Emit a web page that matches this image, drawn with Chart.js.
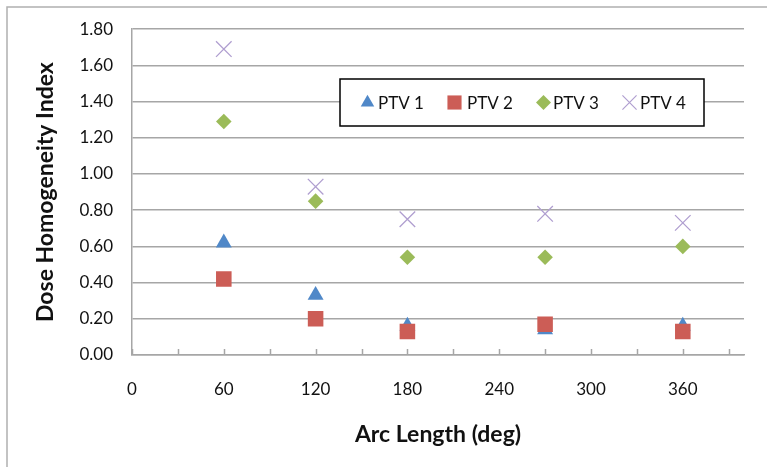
<!DOCTYPE html>
<html>
<head>
<meta charset="utf-8">
<title>Dose Homogeneity Index vs Arc Length</title>
<script src="https://cdn.jsdelivr.net/npm/chart.js@4.4.0/dist/chart.umd.min.js"></script>
<style>
  html, body { margin: 0; padding: 0; background: #fff; }
  #wrap { width: 767px; height: 467px; }
</style>
</head>
<body>
<div id="wrap"><canvas id="chart" width="767" height="467"></canvas></div>
<script>
// arc lengths (deg)
const arcLengths = [60, 120, 180, 270, 360];

// dose homogeneity index per PTV
const ptv1 = [0.62, 0.33, 0.16, 0.14, 0.16];
const ptv2 = [0.42, 0.20, 0.13, 0.17, 0.13];
const ptv3 = [1.29, 0.85, 0.54, 0.54, 0.60];
const ptv4 = [1.69, 0.93, 0.75, 0.78, 0.73];

const seriesNames = ['PTV 1', 'PTV 2', 'PTV 3', 'PTV 4'];

// x tick positions (every 30, labels every 60)
const xTicks = [0, 30, 60, 90, 120, 150, 180, 210, 240, 270, 300, 330, 360, 390];

const GRID = '#a6a6a6';
const FONT = 'Lato, "DejaVu Sans", sans-serif';

const toPoints = vals => vals.map((v, i) => ({ x: arcLengths[i], y: v }));

const styles = [
  { pointStyle: 'triangle', color: '#5088c8', radius: 9.2, legendRadius: 7.8, order: 4 },
  { pointStyle: 'rect', color: '#cc5d56', radius: 11, legendRadius: 10, order: 3 },
  { pointStyle: 'rectRot', color: '#9bbb59', radius: 7.8, legendRadius: 7.5, order: 2 },
  { pointStyle: 'crossRot', color: '#b09fd0', radius: 11, legendRadius: 10, order: 1 }
];

const datasets = [ptv1, ptv2, ptv3, ptv4].map((vals, i) => ({
  label: seriesNames[i],
  data: toPoints(vals),
  pointStyle: styles[i].pointStyle,
  pointRadius: styles[i].radius,
  pointHoverRadius: styles[i].radius,
  backgroundColor: styles[i].color,
  borderColor: styles[i].color,
  pointBorderWidth: i === 3 ? 1.3 : 0,
  showLine: false,
  order: styles[i].order
}));

// outer frame like the spreadsheet chart area
const framePlugin = {
  id: 'frame',
  beforeDraw(chart) {
    const ctx = chart.ctx;
    ctx.save();
    ctx.fillStyle = '#fff';
    ctx.fillRect(0, 0, chart.width, chart.height);
    ctx.strokeStyle = '#b0b0b0';
    ctx.lineWidth = 1.5;
    ctx.strokeRect(7, 7, chart.width + 20, chart.height + 20);
    ctx.restore();
  }
};

// inside tick marks on the x axis
const xTickPlugin = {
  id: 'xTickMarks',
  afterDatasetsDraw(chart) {
    const xs = chart.scales.x;
    const bottom = chart.chartArea.bottom;
    const ctx = chart.ctx;
    ctx.save();
    ctx.strokeStyle = GRID;
    ctx.lineWidth = 1.5;
    xs.ticks.forEach(t => {
      const px = Math.round(xs.getPixelForValue(t.value)) + 0.5;
      ctx.beginPath();
      ctx.moveTo(px, bottom);
      ctx.lineTo(px, bottom - 6);
      ctx.stroke();
    });
    ctx.restore();
  }
};

// boxed legend inside the plot area
const boxLegendPlugin = {
  id: 'boxLegend',
  afterDatasetsDraw(chart) {
    const ctx = chart.ctx;
    const area = chart.chartArea;
    const left = area.left + 208, top = 79, w = 364, h = 47;
    const cy = top + h / 2;
    const markerX = [367.5, 454.5, 543.5, 629.5];
    const textX = [378, 467, 553, 640];
    ctx.save();
    ctx.fillStyle = '#fff';
    ctx.fillRect(left, top, w, h);
    ctx.strokeStyle = '#000';
    ctx.lineWidth = 1.5;
    ctx.strokeRect(left, top, w, h);
    chart.data.datasets.forEach((ds, i) => {
      ctx.fillStyle = styles[i].color;
      ctx.strokeStyle = styles[i].color;
      ctx.lineWidth = i === 3 ? 1.2 : 0;
      Chart.helpers.drawPoint(ctx, {
        pointStyle: styles[i].pointStyle,
        radius: styles[i].legendRadius,
        rotation: 0,
        borderWidth: i === 3 ? 1.2 : 0
      }, markerX[i], cy);
      ctx.fillStyle = '#111';
      ctx.font = '17px ' + FONT;
      ctx.textBaseline = 'middle';
      ctx.textAlign = 'left';
      ctx.fillText(ds.label, textX[i], cy + 1);
    });
    ctx.restore();
  }
};

const LEFT_PAD = 32;
const BOTTOM_PAD = 19;

new Chart(document.getElementById('chart'), {
  type: 'scatter',
  data: { datasets },
  options: {
    responsive: false,
    animation: false,
    events: [],
    layout: { padding: { left: LEFT_PAD, top: 29, right: 23, bottom: BOTTOM_PAD } },
    plugins: {
      legend: { display: false },
      tooltip: { enabled: false }
    },
    scales: {
      x: {
        type: 'linear',
        min: 0,
        max: 400,
        afterBuildTicks(scale) {
          scale.ticks = xTicks.map(v => ({ value: v }));
        },
        afterFit(scale) {
          scale.height = 467 - BOTTOM_PAD - 355;
        },
        ticks: {
          autoSkip: false,
          maxRotation: 0,
          padding: 24,
          color: '#111',
          font: { family: FONT, size: 17 },
          callback: v => (v % 60 === 0 ? String(v) : '')
        },
        grid: { drawOnChartArea: false, drawTicks: false },
        border: { display: true, color: GRID, width: 1.5 },
        title: {
          display: true,
          text: 'Arc Length (deg)',
          color: '#111',
          padding: 0,
          font: { family: FONT, size: 23, weight: 'bold' }
        }
      },
      y: {
        min: 0,
        max: 1.8,
        afterFit(scale) {
          scale.width = 132 - LEFT_PAD;
        },
        ticks: {
          stepSize: 0.2,
          padding: 19,
          color: '#111',
          font: { family: FONT, size: 17 },
          callback: v => v.toFixed(2)
        },
        grid: { color: GRID, lineWidth: 1.5, drawTicks: false },
        border: { display: true, color: GRID, width: 1.5 },
        title: {
          display: true,
          text: 'Dose Homogeneity Index',
          color: '#111',
          padding: 0,
          font: { family: FONT, size: 23, weight: 'bold' }
        }
      }
    }
  },
  plugins: [framePlugin, xTickPlugin, boxLegendPlugin]
});
</script>
</body>
</html>
